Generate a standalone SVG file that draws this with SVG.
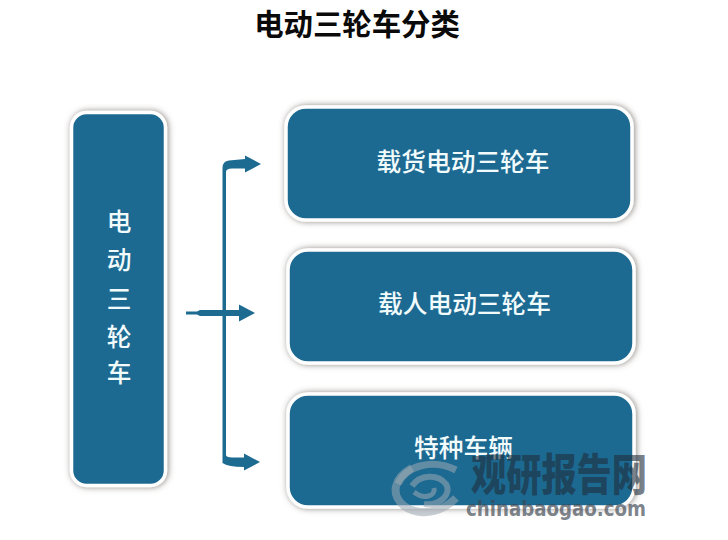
<svg xmlns="http://www.w3.org/2000/svg" width="728" height="540" viewBox="0 0 728 540">
<defs>
<filter id="sh" x="-15%" y="-15%" width="130%" height="130%"><feDropShadow dx="1" dy="0" stdDeviation="3" flood-color="#5f554d" flood-opacity=".7"/></filter>
<style>
.box{fill:#1e6b92;stroke:#fff;stroke-width:3.5;filter:url(#sh)}
.t{font-family:"Noto Sans CJK SC","Noto Sans CJK JP",sans-serif;font-weight:500;fill:#f2fbfc;font-size:24.7px;text-anchor:middle}
.c{fill:#1e6b92;stroke:none}
.wm{font-family:"Noto Sans CJK SC",sans-serif;font-weight:900;fill:#1f2f3c;fill-opacity:.62;font-size:44px}
.wm2{font-family:"DejaVu Sans",sans-serif;font-weight:700;fill:#3c4650;fill-opacity:.68;font-size:22px}
</style>
</defs>
<rect width="728" height="540" fill="#fff"/>
<text id="title" x="357" y="35" text-anchor="middle" font-family="'Noto Sans CJK SC',sans-serif" font-weight="700" font-size="29.400" fill="#0a0a0a">电动三轮车分类</text>
<g id="connectors">
<path class="c" d="M186 311.500H197L200 310H222.500V168Q222.500 161 229 160.500L245 159V155.500L261 164L245 172.500V168.500L232 168.500Q226 168.500 226 172V310H239V304.500L255 313L239 321.500V316H226V455Q226 457 232 457.500H244V453.500L260 462L244 470.500V467Q228 467 222.500 463V316H200L197 314.500H186Z"/>
</g>
<g id="n-root"><rect class="box" x="71.500" y="112.500" width="94" height="373" rx="15"/>
<text class="t" x="119" y="231">电</text><text class="t" x="119" y="269">动</text><text class="t" x="119" y="308">三</text><text class="t" x="119" y="346">轮</text><text class="t" x="119" y="382">车</text></g>
<g id="n-cargo"><rect class="box" x="286" y="107" width="346" height="113" rx="20"/><text class="t" x="463" y="171">载货电动三轮车</text></g>
<g id="n-passenger"><rect class="box" x="288" y="250" width="346" height="113" rx="20"/><text class="t" x="464.500" y="313">载人电动三轮车</text></g>
<g id="n-special"><rect class="box" x="288" y="394" width="346" height="113" rx="20"/><text class="t" x="463.500" y="457">特种车辆</text></g>
<g id="watermark">
<g fill="none" stroke="#9aa8b0" stroke-opacity=".55">
<path stroke-width="8" d="M412 468C394 478 390 494 404 506C418 516 440 514 456 498"/>
<path stroke-width="7" d="M398 484C406 466 432 458 456 470"/>
<path stroke-width="6" d="M412 486C420 474 438 474 446 484C452 494 440 506 424 504"/>
<path stroke-width="5" d="M414 492C424 500 436 496 434 488"/>
</g>
<text class="wm" x="471" y="491" textLength="176" lengthAdjust="spacingAndGlyphs">观研报告网</text>
<text class="wm2" x="466" y="516" textLength="180" lengthAdjust="spacingAndGlyphs">chinabaogao.com</text>
</g>
</svg>
